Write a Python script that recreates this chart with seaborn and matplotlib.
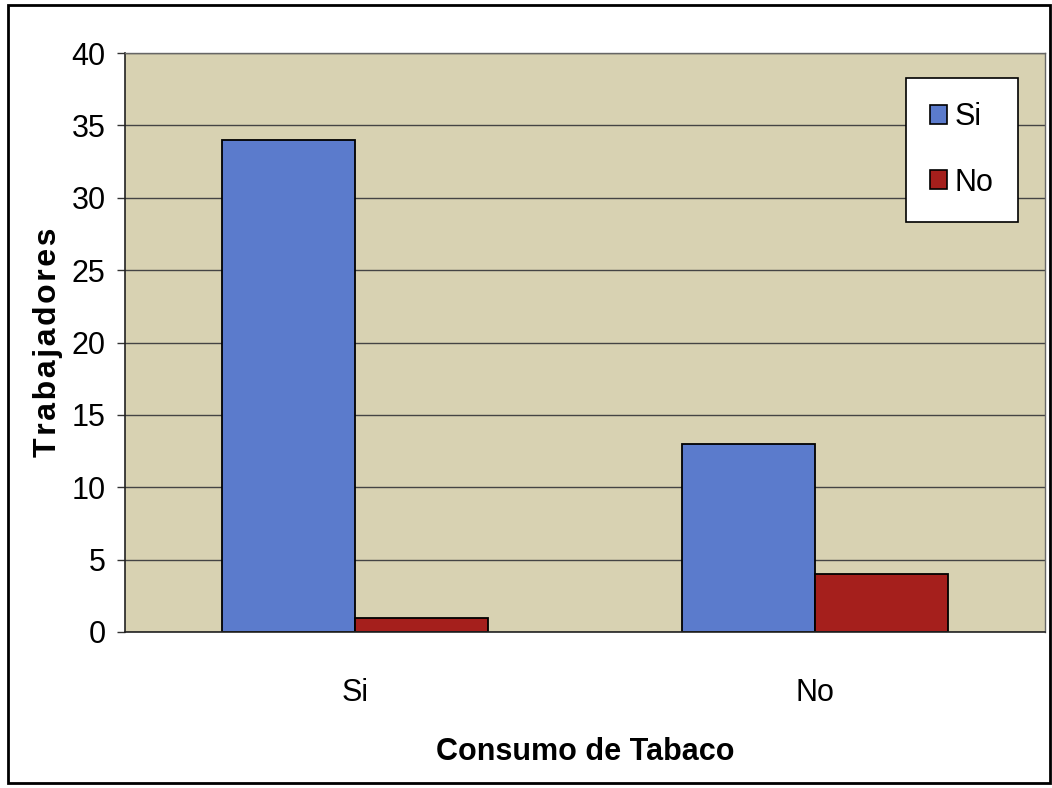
import matplotlib
matplotlib.use("Agg")
import matplotlib.pyplot as plt
from matplotlib.patches import Rectangle, Patch
import seaborn as sns
import pandas as pd

# Data: tobacco consumption vs. response
categorias = ["Si", "No"]
respuestas = ["Si", "No"]
valores_si = [34, 13]   # hue "Si"
valores_no = [1, 4]     # hue "No"
yticks = [0, 5, 10, 15, 20, 25, 30, 35, 40]

df = pd.DataFrame({
    "consumo": categorias * 2,
    "respuesta": [respuestas[0]] * 2 + [respuestas[1]] * 2,
    "trabajadores": valores_si + valores_no,
})

sns.set_theme(style="white")
plt.rcParams["font.family"] = ["Liberation Sans Narrow", "Liberation Sans", "DejaVu Sans"]
plt.rcParams["text.color"] = "black"
plt.rcParams["xtick.color"] = "black"
plt.rcParams["ytick.color"] = "black"
plt.rcParams["axes.labelcolor"] = "black"

azul = "#5b7bcc"
rojo = "#a51f1c"
fondo = "#d8d2b2"

fig = plt.figure(figsize=(10.52, 7.88), dpi=100)
fig.patch.set_facecolor("white")
ax = fig.add_axes([0.1188, 0.198, 0.8745, 0.7347])
ax.set_facecolor(fondo)

sns.barplot(data=df, x="consumo", y="trabajadores", hue="respuesta",
            order=categorias, hue_order=respuestas,
            palette=[azul, rojo], width=0.58, edgecolor="black",
            linewidth=1.3, saturation=1, ax=ax, legend=False)

ax.set_xlim(-0.5, 1.5)
ax.set_ylim(0, 40)
ax.set_yticks(yticks)
ax.set_yticklabels([str(v) for v in yticks], fontsize=22)
ax.yaxis.grid(True, color="#444444", linewidth=1.0)
ax.set_axisbelow(True)

# category labels centred, tick marks on category boundaries
ax.set_xticks([0, 1])
ax.set_xticklabels(categorias, fontsize=22)
ax.set_xticks([-0.5, 0.5, 1.5], minor=True)
ax.tick_params(axis="x", which="major", length=0, pad=33)
ax.tick_params(axis="x", which="minor", length=8, width=1, color="#333333", direction="out")
ax.tick_params(axis="y", length=6, width=1, color="#333333", direction="out", pad=8, left=True)

for s in ["left", "bottom"]:
    ax.spines[s].set_color("#222222")
    ax.spines[s].set_linewidth(1.2)
for s in ["top", "right"]:
    ax.spines[s].set_color("#666666")
    ax.spines[s].set_linewidth(1.0)

ax.set_xlabel("Consumo de Tabaco", fontsize=22, fontweight="bold", labelpad=21)
ax.set_ylabel("\u200a".join("Trabajadores"), fontsize=23, fontweight="bold",
              family=["Liberation Sans", "DejaVu Sans"], labelpad=6)

handles = [Patch(facecolor=azul, edgecolor="black", linewidth=1.2),
           Patch(facecolor=rojo, edgecolor="black", linewidth=1.2)]
leg = ax.legend(handles, respuestas, loc="upper right",
                bbox_to_anchor=(0.9707, 0.957), borderaxespad=0,
                fancybox=False, frameon=True, framealpha=1, fontsize=22,
                handlelength=0.55, handleheight=0.55, handletextpad=0.25,
                labelspacing=1.15, borderpad=0.8)
leg.get_frame().set_edgecolor("black")
leg.get_frame().set_linewidth(1.2)
leg.get_frame().set_facecolor("white")

# outer frame around the whole chart
fig.patches.append(Rectangle((0.008, 0.006), 0.99, 0.988, transform=fig.transFigure,
                             fill=False, edgecolor="black", linewidth=2))

fig.savefig("out.png", dpi=100)
